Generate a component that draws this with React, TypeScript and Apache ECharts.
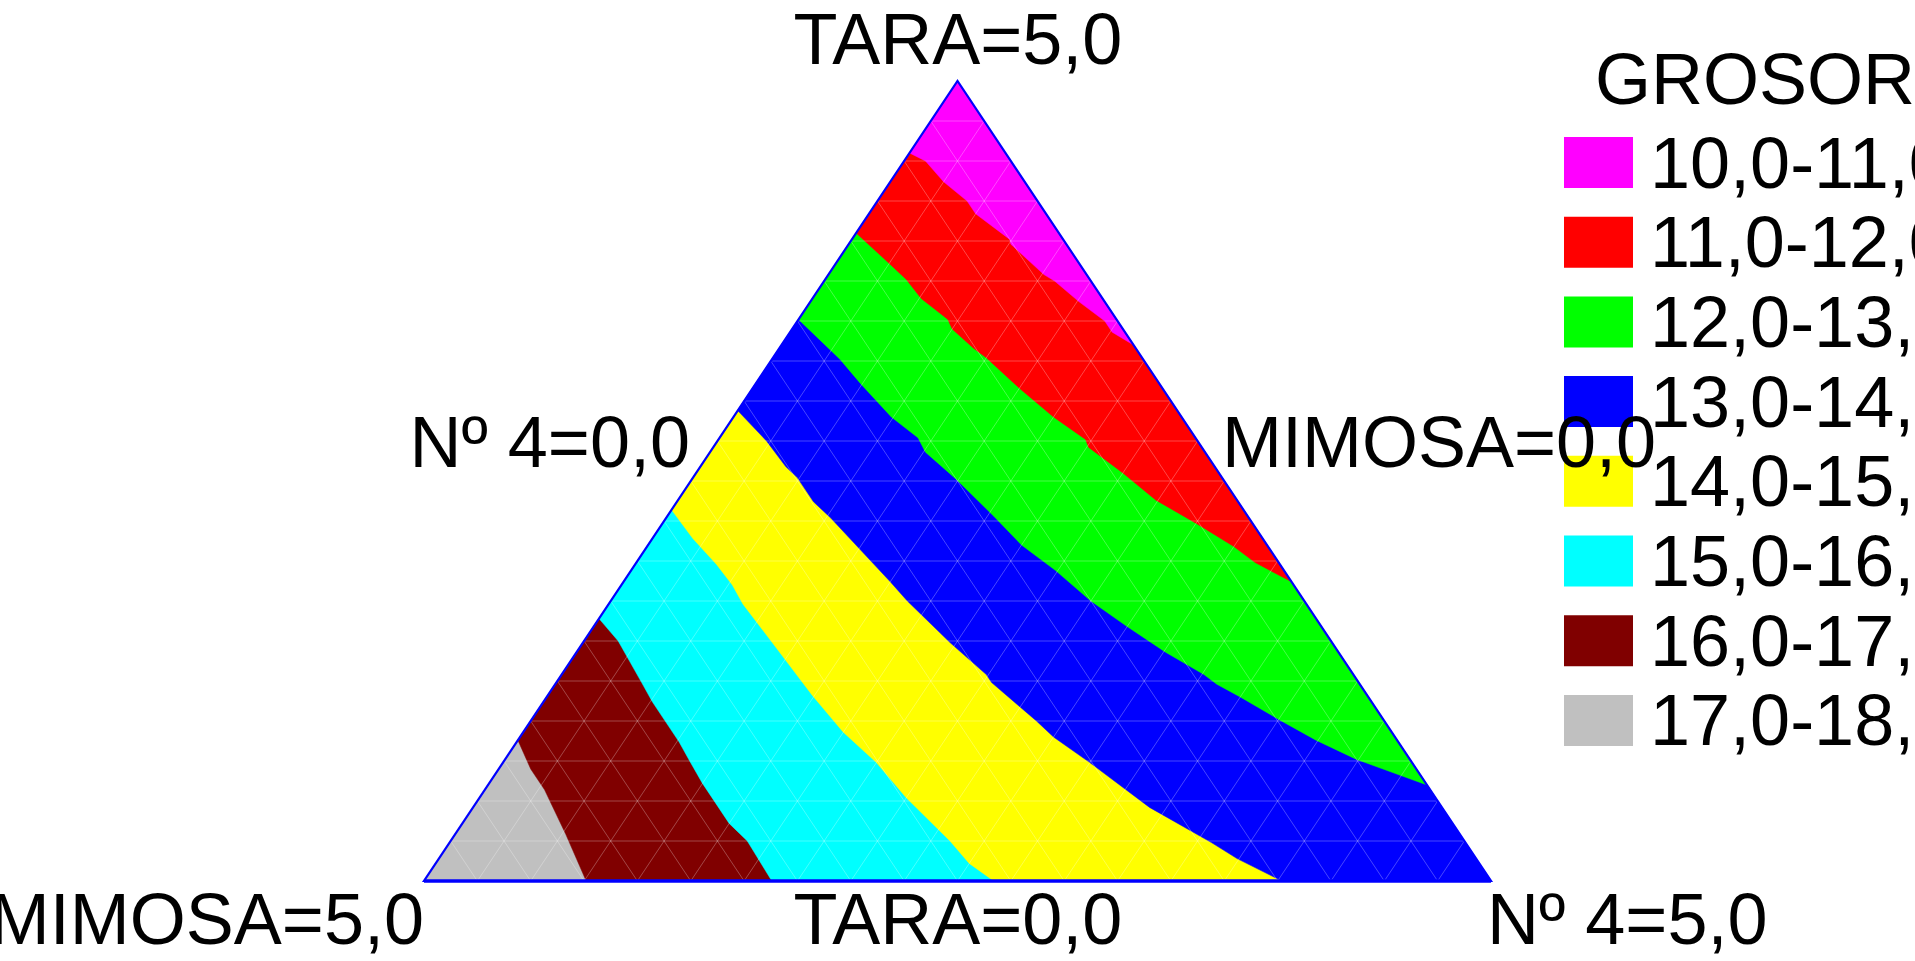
import React, { useEffect, useRef } from "react";
import * as echarts from "echarts";

// ---- DATA ----
const legendTitle = "GROSOR";
const bandLabels = [
  "10,0-11,0",
  "11,0-12,0",
  "12,0-13,0",
  "13,0-14,0",
  "14,0-15,0",
  "15,0-16,0",
  "16,0-17,0",
  "17,0-18,0",
];
const bandColors = ["#FF00FF", "#FF0000", "#00FF00", "#0000FF", "#FFFF00", "#00FFFF", "#800000", "#C0C0C0"];

// contour lines, points as [TARA, Nº 4] (MIMOSA = 5 - TARA - Nº 4)
const contour11 = [[4.55, 0], [4.5, 0.1], [4.37, 0.25], [4.25, 0.42], [4.17, 0.5], [4.01, 0.74], [3.98, 0.76], [3.79, 1.01], [3.75, 1.08], [3.62, 1.26], [3.5, 1.44], [3.43, 1.51], [3.35, 1.65]];
const contour12 = [[4.05, 0], [3.86, 0.25], [3.76, 0.38], [3.64, 0.51], [3.51, 0.7], [3.45, 0.75], [3.33, 0.91], [3.27, 1.0], [3.08, 1.25], [2.9, 1.5], [2.76, 1.72], [2.71, 1.76], [2.55, 2.0], [2.38, 2.24], [2.23, 2.51], [2.09, 2.75], [1.99, 2.9], [1.87, 3.13]];
const contour13 = [[3.51, 0], [3.26, 0.32], [3.11, 0.49], [2.9, 0.74], [2.77, 0.93], [2.68, 1.01], [2.51, 1.24], [2.28, 1.53], [2.1, 1.75], [1.94, 1.99], [1.75, 2.25], [1.59, 2.5], [1.43, 2.76], [1.29, 3.01], [1.23, 3.1], [1.15, 3.25], [1.01, 3.5], [0.88, 3.74], [0.76, 3.99], [0.6, 4.4]];
const contour14 = [[2.94, 0], [2.75, 0.23], [2.59, 0.4], [2.52, 0.49], [2.37, 0.64], [2.27, 0.77], [2.07, 1.01], [1.87, 1.25], [1.75, 1.39], [1.49, 1.72], [1.29, 1.99], [1.24, 2.04], [1.0, 2.37], [0.9, 2.5], [0.74, 2.75], [0.46, 3.17], [0.24, 3.57], [0.14, 3.74], [0, 4.02]];
const contour15 = [[2.32, 0], [2.14, 0.19], [1.98, 0.38], [1.85, 0.52], [1.73, 0.63], [1.45, 0.93], [1.16, 1.24], [0.93, 1.5], [0.74, 1.75], [0.52, 2.0], [0.25, 2.34], [0.11, 2.5], [0, 2.67]];
const contour16 = [[1.64, 0], [1.5, 0.16], [1.24, 0.4], [1.12, 0.51], [0.87, 0.76], [0.75, 0.87], [0.61, 1.0], [0.36, 1.25], [0.25, 1.39], [0, 1.63]];
const contour17 = [[0.88, 0], [0.7, 0.15], [0.57, 0.28], [0.29, 0.52], [0, 0.76]];
const contours = [contour11, contour12, contour13, contour14, contour15, contour16, contour17];

// ternary grid ticks (component value)
const gridTicks = [0.25, 0.5, 0.75, 1, 1.25, 1.5, 1.75, 2, 2.25, 2.5, 2.75, 3, 3.25, 3.5, 3.75, 4, 4.25, 4.5, 4.75];
const total = 5;

// vertex / side labels
const axisLabels = ["TARA=5,0", "TARA=0,0", "MIMOSA=5,0", "MIMOSA=0,0", "Nº 4=5,0", "Nº 4=0,0"];

const FONT = "'Liberation Sans', Arial, Helvetica, sans-serif";
const FS = 72;

// ternary [TARA, Nº4] -> cartesian data coords
const toXY = (p: number[]) => [p[1] + p[0] / 2, p[0]];

export default function App() {
  const ref = useRef<HTMLDivElement>(null);
  useEffect(() => {
    const chart = echarts.init(ref.current!, null, { renderer: "svg" });

    const apex = [total, 0];
    const bottomRight = [0, total];
    const bottomLeft = [0, 0];

    // painter's order: full triangle (highest band), then low side of each level from 17 down to 11
    const polys: { pts: number[][]; color: string }[] = [];
    polys.push({ pts: [bottomLeft, bottomRight, apex], color: bandColors[7] });
    for (let k = contours.length - 1; k >= 0; k--) {
      const line = contours[k];
      const last = line[line.length - 1];
      const pts = [...line];
      if (last[0] === 0) pts.push(bottomRight);
      pts.push(apex);
      polys.push({ pts, color: bandColors[k] });
    }

    const gridLineStyle = { stroke: "rgba(255,255,255,0.28)", lineWidth: 1 };

    const legendGraphics: any[] = [];
    legendGraphics.push({
      type: "text",
      x: 1595,
      y: 79,
      z: 10,
      style: { text: legendTitle, fontSize: FS, fontFamily: FONT, fill: "#000", align: "left", verticalAlign: "middle" },
    });
    bandLabels.forEach((lab, i) => {
      const top = 137 + i * 79.7;
      legendGraphics.push({
        type: "rect",
        z: 10,
        shape: { x: 1564, y: top, width: 69, height: 51 },
        style: { fill: bandColors[i] },
      });
      legendGraphics.push({
        type: "text",
        x: 1650,
        y: top + 25.5,
        z: 10,
        style: { text: lab, fontSize: FS, fontFamily: FONT, fill: "#000", align: "left", verticalAlign: "middle" },
      });
    });

    const labelPos = [
      { x: 958, y: 39, align: "center" },
      { x: 958, y: 919, align: "center" },
      { x: 424, y: 919, align: "right" },
      { x: 1222, y: 442, align: "left" },
      { x: 1487, y: 919, align: "left" },
      { x: 690, y: 442, align: "right" },
    ];
    const labelGraphics = axisLabels.map((t, i) => ({
      type: "text",
      x: labelPos[i].x,
      y: labelPos[i].y,
      z: 20,
      style: { text: t, fontSize: FS, fontFamily: FONT, fill: "#000", align: labelPos[i].align, verticalAlign: "middle" },
    }));

    const option: any = {
      animation: false,
      backgroundColor: "#ffffff",
      grid: { left: 424, top: 81, width: 1067, height: 800, outerBoundsMode: "none" },
      xAxis: { type: "value", min: 0, max: total, show: false },
      yAxis: { type: "value", min: 0, max: total, show: false },
      series: [
        {
          type: "custom",
          z: 1,
          silent: true,
          data: polys.map(() => [0, 0]),
          renderItem: (params: any, api: any) => {
            const p = polys[params.dataIndex];
            return {
              type: "polygon",
              shape: { points: p.pts.map((q) => api.coord(toXY(q))) },
              style: { fill: p.color, stroke: p.color, lineWidth: 0.5 },
            };
          },
        },
        {
          type: "custom",
          z: 2,
          silent: true,
          data: gridTicks.map(() => [0, 0]),
          renderItem: (params: any, api: any) => {
            const v = gridTicks[params.dataIndex];
            const seg = (a: number[], b: number[]) => {
              const pa = api.coord(toXY(a));
              const pb = api.coord(toXY(b));
              return { type: "line", shape: { x1: pa[0], y1: pa[1], x2: pb[0], y2: pb[1] }, style: gridLineStyle };
            };
            return {
              type: "group",
              children: [
                seg([v, 0], [v, total - v]),
                seg([0, v], [total - v, v]),
                seg([0, total - v], [total - v, 0]),
              ],
            };
          },
        },
        {
          type: "custom",
          z: 3,
          silent: true,
          data: [[0, 0]],
          renderItem: (params: any, api: any) => {
            const a = api.coord(toXY(bottomLeft));
            const b = api.coord(toXY(bottomRight));
            const c = api.coord(toXY(apex));
            return {
              type: "group",
              children: [
                { type: "polygon", shape: { points: [a, b, c] }, style: { fill: "none", stroke: "#0000FF", lineWidth: 2.2 } },
                { type: "line", shape: { x1: a[0], y1: a[1], x2: b[0], y2: b[1] }, style: { stroke: "#0000FF", lineWidth: 3.5 } },
              ],
            };
          },
        },
      ],
      graphic: [...legendGraphics, ...labelGraphics],
    };
    chart.setOption(option);
    return () => chart.dispose();
  }, []);
  return (
    <div
      ref={ref}
      style={{ position: "fixed", left: 0, top: 0, width: 1915, height: 961, background: "#fff", overflow: "hidden" }}
    />
  );
}
